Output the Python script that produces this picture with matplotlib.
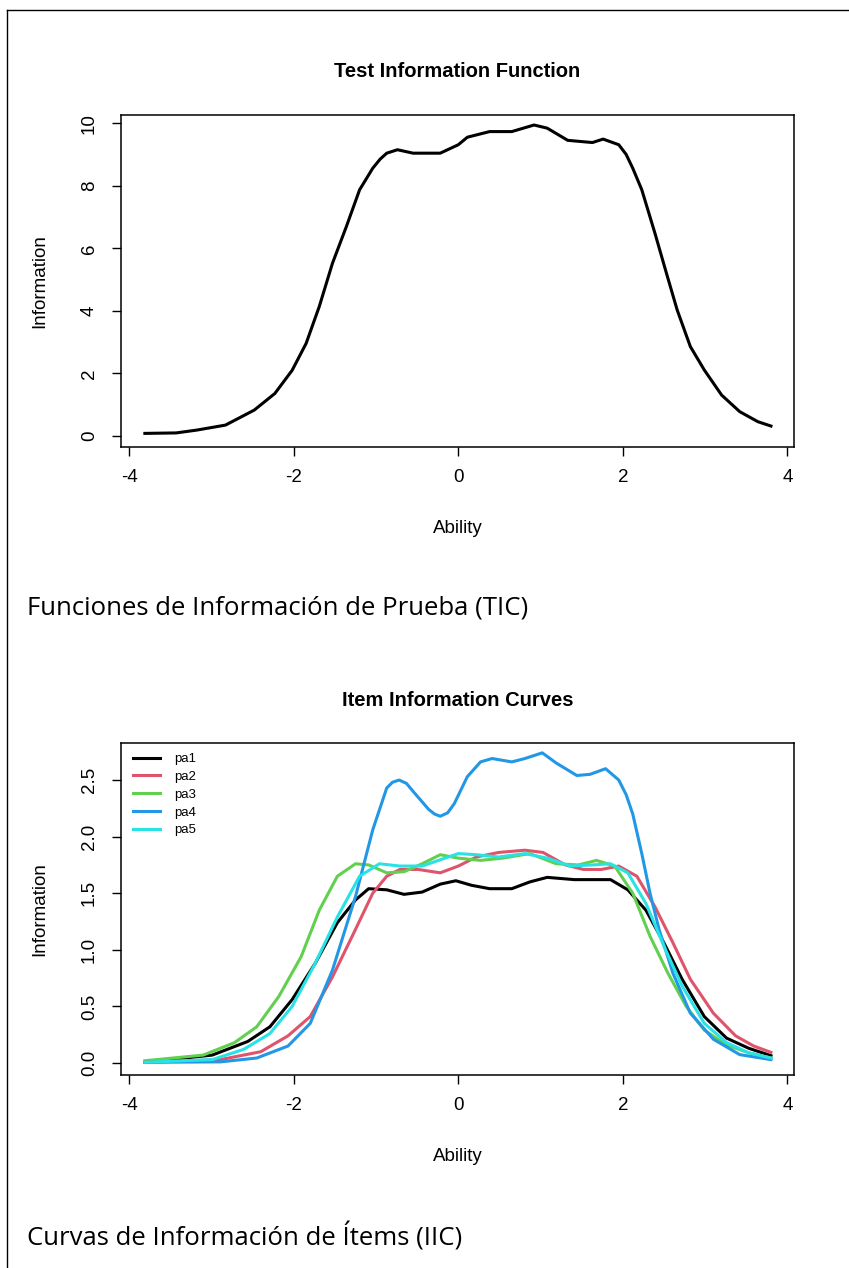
import matplotlib
matplotlib.use('Agg')
import matplotlib.pyplot as plt
from matplotlib.lines import Line2D

plt.rcParams['font.family'] = ['Liberation Sans', 'DejaVu Sans']

# test information function
tif_x = [-3.81, -3.43, -3.18, -2.83, -2.48, -2.23, -2.02, -1.85, -1.69, -1.53, -1.36, -1.2,
         -1.04, -0.95, -0.87, -0.74, -0.55, -0.22, 0.0, 0.11, 0.38, 0.65, 0.92, 1.08, 1.33, 1.63,
         1.76, 1.95, 2.04, 2.12, 2.23, 2.39, 2.53, 2.66, 2.82, 2.99, 3.2, 3.42, 3.64, 3.8]
tif_y = [0.085, 0.1, 0.19, 0.35, 0.83, 1.36, 2.1, 2.96, 4.14, 5.52, 6.7, 7.87,
         8.56, 8.85, 9.04, 9.15, 9.04, 9.04, 9.31, 9.55, 9.73, 9.73, 9.94, 9.84, 9.45, 9.38,
         9.49, 9.31, 9.0, 8.56, 7.87, 6.48, 5.2, 4.03, 2.86, 2.11, 1.31, 0.78, 0.46, 0.32]

# item information curves
pa1_x = [-3.81, -2.99, -2.56, -2.29, -2.02, -1.74, -1.47, -1.25, -1.09, -0.87, -0.66, -0.44, -0.22,
         -0.03, 0.16, 0.38, 0.65, 0.87, 1.08, 1.41, 1.85, 2.06, 2.28, 2.5, 2.72, 2.99, 3.26, 3.53, 3.8]
pa1_y = [0.006, 0.07, 0.19, 0.32, 0.56, 0.88, 1.24, 1.44, 1.54, 1.53, 1.49, 1.51, 1.58,
         1.61, 1.57, 1.54, 1.54, 1.6, 1.64, 1.62, 1.62, 1.53, 1.35, 1.06, 0.74, 0.41, 0.22, 0.13, 0.065]

pa2_x = [-3.81, -2.89, -2.40, -2.07, -1.80, -1.53, -1.25, -1.04, -0.87, -0.71, -0.49, -0.22, 0.0,
         0.22, 0.49, 0.81, 1.03, 1.30, 1.52, 1.74, 1.95, 2.17, 2.39, 2.61, 2.82, 3.10, 3.37, 3.59, 3.8]
pa2_y = [0.006, 0.03, 0.10, 0.24, 0.41, 0.76, 1.18, 1.5, 1.65, 1.71, 1.71, 1.68, 1.74,
         1.82, 1.86, 1.88, 1.86, 1.75, 1.71, 1.71, 1.74, 1.65, 1.38, 1.06, 0.74, 0.44, 0.24, 0.15, 0.094]

pa3_x = [-3.81, -3.1, -2.72, -2.45, -2.18, -1.91, -1.69, -1.47, -1.25, -1.09, -0.87, -0.66, -0.44,
         -0.22, 0.0, 0.27, 0.54, 0.87, 1.19, 1.46, 1.68, 1.90, 2.12, 2.33, 2.55, 2.77, 2.99, 3.26, 3.53, 3.8]
pa3_y = [0.02, 0.07, 0.18, 0.32, 0.59, 0.94, 1.35, 1.65, 1.76, 1.75, 1.68, 1.69, 1.76,
         1.84, 1.81, 1.79, 1.81, 1.85, 1.76, 1.75, 1.79, 1.74, 1.5, 1.12, 0.79, 0.5, 0.29, 0.16, 0.09, 0.044]

pa4_x = [-3.81, -2.89, -2.45, -2.07, -1.80, -1.53, -1.25, -1.04, -0.87, -0.80, -0.72, -0.63, -0.55,
         -0.36, -0.29, -0.22, -0.13, -0.05, 0.11, 0.27, 0.41, 0.65, 0.81, 1.02, 1.19, 1.44, 1.60,
         1.79, 1.95, 2.04, 2.12, 2.23, 2.33, 2.44, 2.61, 2.82, 3.10, 3.42, 3.8]
pa4_y = [0.006, 0.01, 0.044, 0.15, 0.35, 0.82, 1.47, 2.06, 2.43, 2.48, 2.5, 2.47, 2.4,
         2.24, 2.2, 2.18, 2.21, 2.29, 2.53, 2.66, 2.69, 2.66, 2.69, 2.74, 2.65, 2.54, 2.55,
         2.6, 2.5, 2.37, 2.2, 1.85, 1.5, 1.18, 0.79, 0.44, 0.21, 0.074, 0.03]

pa5_x = [-3.81, -2.99, -2.61, -2.29, -2.02, -1.74, -1.47, -1.2, -0.96, -0.71, -0.44, -0.16, 0.0,
         0.22, 0.49, 0.81, 1.08, 1.36, 1.63, 1.85, 2.06, 2.28, 2.5, 2.72, 2.99, 3.26, 3.53, 3.8]
pa5_y = [0.006, 0.03, 0.12, 0.26, 0.5, 0.88, 1.29, 1.65, 1.76, 1.74, 1.74, 1.81, 1.85,
         1.84, 1.82, 1.85, 1.81, 1.74, 1.75, 1.76, 1.68, 1.41, 1.03, 0.68, 0.35, 0.18, 0.09, 0.044]

items = ['pa1', 'pa2', 'pa3', 'pa4', 'pa5']
item_x = [pa1_x, pa2_x, pa3_x, pa4_x, pa5_x]
item_y = [pa1_y, pa2_y, pa3_y, pa4_y, pa5_y]
colors = ['#000000', '#DF536B', '#61D04F', '#2297E6', '#28E2E5']

W, H = 849, 1268
fig = plt.figure(figsize=(W / 100, H / 100), dpi=100)


def box(l, t, r, b):
    return [l / W, 1 - b / H, (r - l) / W, (b - t) / H]


def r_style(ax, title, title_y):
    for s in ax.spines.values():
        s.set_linewidth(1.1)
    ax.tick_params(axis='x', length=6.5, width=1.0, labelsize=13.5, pad=9)
    ax.tick_params(axis='y', length=6.5, width=1.0, labelsize=13.5, pad=10)
    ax.set_xticks([-4, -2, 0, 2, 4])
    ax.set_xticklabels(['-4', '-2', '0', '2', '4'])
    for lab in ax.get_yticklabels():
        lab.set_rotation(90)
        lab.set_va('center')
    ax.set_xlabel('Ability', fontsize=13.5, va='center')
    ax.set_ylabel('Information', fontsize=13.5, va='center')
    ax.xaxis.set_label_coords(0.5, -0.244)
    ax.yaxis.set_label_coords(-0.120, 0.5)
    ax.text(0.5, title_y, title, transform=ax.transAxes, ha='center', va='center',
            fontsize=14.5, fontweight='bold')


# top panel
ax1 = fig.add_axes(box(121, 115, 794, 447))
ax1.plot(tif_x, tif_y, color='black', lw=2.2, solid_joinstyle='round')
ax1.set_xlim(-4.1, 4.08)
ax1.set_ylim(-0.35, 10.26)
ax1.set_yticks([0, 2, 4, 6, 8, 10])
r_style(ax1, 'Test Information Function', 1.1325)

# bottom panel
ax2 = fig.add_axes(box(121, 743, 794, 1075))
for name, xs, ys, c in zip(items, item_x, item_y, colors):
    ax2.plot(xs, ys, color=c, lw=2.2, label=name, solid_joinstyle='round')
ax2.set_xlim(-4.1, 4.08)
ax2.set_ylim(-0.106, 2.827)
ax2.set_yticks([0, 0.5, 1.0, 1.5, 2.0, 2.5])
ax2.set_yticklabels(['0.0', '0.5', '1.0', '1.5', '2.0', '2.5'])
r_style(ax2, 'Item Information Curves', 1.1295)
ax2.legend(loc='upper left', frameon=False, fontsize=9.5, handlelength=2.05,
           handletextpad=1.1, labelspacing=0.42, borderaxespad=0, borderpad=0,
           bbox_to_anchor=(12 / 673, 1 - 10 / 332))

# captions
fig.text(27 / W, 1 - 608 / H, 'Funciones de Información de Prueba (TIC)',
         fontsize=18.5, family=['Open Sans', 'DejaVu Sans'], va='center', ha='left')
fig.text(27 / W, 1 - 1237 / H, 'Curvas de Información de Ítems (IIC)',
         fontsize=18.5, family=['Open Sans', 'DejaVu Sans'], va='center', ha='left')

# outer frame (left and top only visible)
fig.add_artist(Line2D([7 / W, 7 / W], [0, 1 - 10 / H], color='black', lw=1, transform=fig.transFigure))
fig.add_artist(Line2D([7 / W, 1], [1 - 10 / H, 1 - 10 / H], color='black', lw=1, transform=fig.transFigure))

fig.savefig('out.png', dpi=100)
